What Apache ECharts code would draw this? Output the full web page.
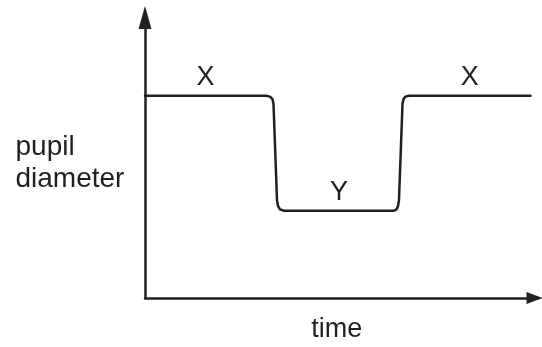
<!DOCTYPE html>
<html>
<head>
<meta charset="utf-8">
<script src="https://cdn.jsdelivr.net/npm/echarts@6/dist/echarts.min.js"></script>
<style>
  html, body { margin: 0; padding: 0; background: #ffffff; }
  #chart { width: 542px; height: 347px; }
</style>
</head>
<body>
<div id="chart"></div>
<script>
// ---- data (arbitrary units) ----
var timeValues = [0, 31.07, 32.09, 32.73, 32.99, 33.89, 34.15, 34.66, 35.69, 63.93, 64.57, 64.96, 65.21, 66.11, 66.37, 66.88, 67.78, 98.97];
var diameterValues = [7.21, 7.21, 7.18, 7.09, 6.92, 3.49, 3.28, 3.16, 3.11, 3.11, 3.16, 3.28, 3.49, 6.92, 7.09, 7.18, 7.21, 7.21];
var phaseLabels = ['X', 'Y', 'X'];
// index ranges (start, end) of the flat plateaus in the arrays above
var phaseStart = [0, 8, 16];
var phaseEnd = [1, 9, 17];
var xAxisTitle = 'time';
var yAxisTitleLines = ['pupil', 'diameter'];

var INK = '#231f20';
var FONT = '"Liberation Sans", Arial, sans-serif';

var lineData = timeValues.map(function (t, i) { return [t, diameterValues[i]]; });

var chart = echarts.init(document.getElementById('chart'), null, { renderer: 'canvas' });

var option = {
  animation: false,
  backgroundColor: '#ffffff',
  grid: { left: 145, right: 7.5, top: 17.5, bottom: 49 },
  xAxis: {
    type: 'value', min: 0, max: 100,
    axisLine: { show: true, symbol: ['none', 'triangle'], symbolSize: [12, 16], lineStyle: { color: INK, width: 2.5 } },
    axisTick: { show: false }, axisLabel: { show: false }, splitLine: { show: false }
  },
  yAxis: {
    type: 'value', min: 0, max: 10,
    axisLine: { show: true, symbol: ['none', 'triangle'], symbolSize: [13, 23], lineStyle: { color: INK, width: 2.5 } },
    axisTick: { show: false }, axisLabel: { show: false }, splitLine: { show: false }
  },
  series: [{
    type: 'line',
    data: lineData,
    symbol: 'none',
    smooth: false,
    lineStyle: { color: INK, width: 2.5, join: 'round', cap: 'round' },
    z: 3
  }]
};
chart.setOption(option);

// texts
var graphics = [];
for (var k = 0; k < phaseLabels.length; k++) {
  var midT = (timeValues[phaseStart[k]] + timeValues[phaseEnd[k]]) / 2;
  var lvl = diameterValues[phaseStart[k]];
  var p = chart.convertToPixel({ gridIndex: 0 }, [midT, lvl]);
  graphics.push({
    type: 'text', x: p[0], y: p[1] - 18,
    style: { text: phaseLabels[k], fill: INK, font: '27px ' + FONT, align: 'center', verticalAlign: 'middle' }
  });
}
var x0 = chart.convertToPixel({ gridIndex: 0 }, [0, 0]);
var x1 = chart.convertToPixel({ gridIndex: 0 }, [100, 0]);
graphics.push({
  type: 'text', x: (x0[0] + x1[0]) / 2 - 3, y: 330,
  style: { text: xAxisTitle, fill: INK, font: '27px ' + FONT, align: 'center', verticalAlign: 'middle' }
});
graphics.push({
  type: 'text', x: 15.5, y: 147,
  style: { text: yAxisTitleLines[0], fill: INK, font: '28px ' + FONT, align: 'left', verticalAlign: 'middle' }
});
graphics.push({
  type: 'text', x: 15.5, y: 179,
  style: { text: yAxisTitleLines[1], fill: INK, font: '28px ' + FONT, align: 'left', verticalAlign: 'middle' }
});
chart.setOption({ graphic: graphics });
</script>
</body>
</html>
